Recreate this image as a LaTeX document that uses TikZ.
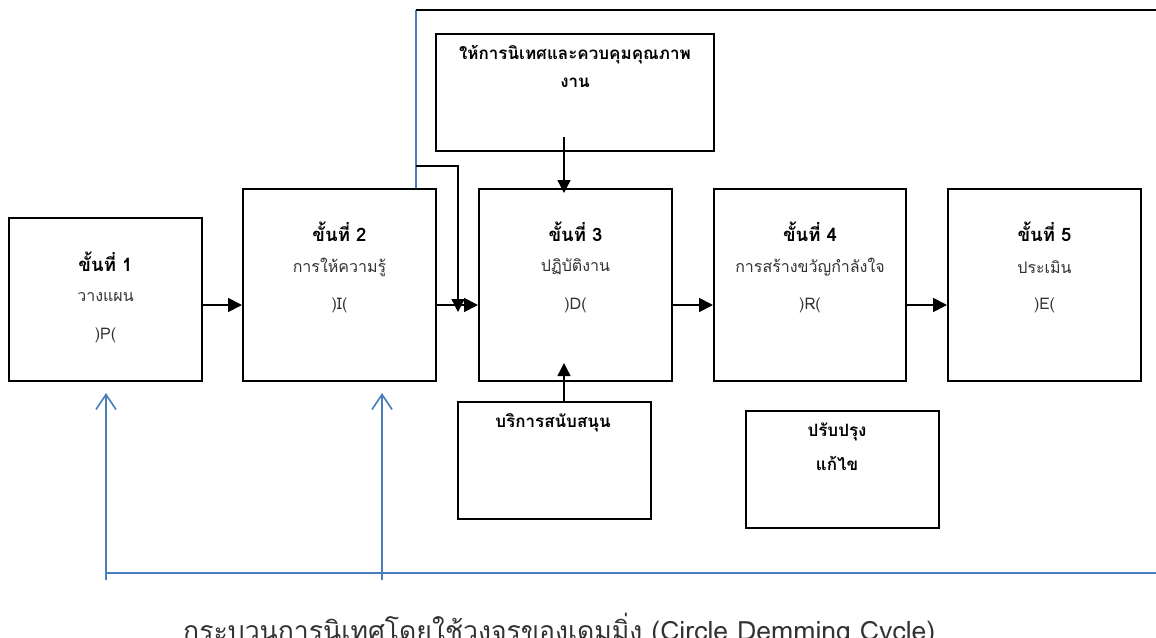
\documentclass[tikz,border=0pt]{standalone}
\usepackage{fontspec}
\newfontfamily\thaifont[Script=Thai]{Loma}
\usetikzlibrary{arrows.meta}
\definecolor{lineblue}{RGB}{74,126,187}
\definecolor{txtgray}{RGB}{50,50,50}
\tikzset{
  stepbox/.style={draw=black, line width=2pt, inner sep=0pt},
  sidebox/.style={draw=black, line width=1.6pt, inner sep=0pt},
  title/.style={font=\thaifont\fontsize{18.5}{22}\selectfont\bfseries, inner sep=0pt},
  sub/.style={font=\thaifont\fontsize{16}{19}\selectfont, text=txtgray, inner sep=0pt},
  side/.style={font=\thaifont\fontsize{17}{20}\selectfont\bfseries, inner sep=0pt, align=center},
  arr/.style={line width=1.8pt, -{Triangle[length=14pt,width=14pt]}},
  thinarr/.style={line width=1.4pt, -{Triangle[length=13pt,width=13pt]}},
  bluearr/.style={draw=lineblue, line width=1.6pt, -{Straight Barb[length=15pt,width=20pt,line width=1.6pt]}},
  blueline/.style={draw=lineblue, line width=2pt},
}
\begin{document}
\begin{tikzpicture}[x=1pt,y=-1pt]
\useasboundingbox (0,0) rectangle (1156,637);
% step boxes
\node[stepbox, minimum width=193pt, minimum height=163pt] (b1) at (105.5,299.5) {};
\node[stepbox, minimum width=193pt, minimum height=192pt] (b2) at (339.5,285) {};
\node[stepbox, minimum width=193pt, minimum height=192pt] (b3) at (575.5,285) {};
\node[stepbox, minimum width=192pt, minimum height=192pt] (b4) at (810,285) {};
\node[stepbox, minimum width=193pt, minimum height=192pt] (b5) at (1044.5,285) {};
% side boxes
\node[sidebox, minimum width=278pt, minimum height=117pt] (top) at (575,92.5) {};
\node[sidebox, minimum width=193pt, minimum height=117pt] (sup) at (554.5,460.5) {};
\node[sidebox, minimum width=193pt, minimum height=117pt] (imp) at (842.5,469.5) {};
% texts
\node[title] (t1) at (105.5,262) {ขั้นที่ 1};
\node[sub] (s1) at (105.5,297) {วางแผน};
\node[sub] (l1) at (105.5,335) {)P(};
\node[title] (t2) at (339.5,232) {ขั้นที่ 2};
\node[sub] (s2) at (339.5,267) {การให้ความรู้};
\node[sub] (l2) at (339.5,305) {)I(};
\node[title] (t3) at (575.5,232) {ขั้นที่ 3};
\node[sub] (s3) at (575.5,267) {ปฏิบัติงาน};
\node[sub] (l3) at (575.5,305) {)D(};
\node[title] (t4) at (810,232) {ขั้นที่ 4};
\node[sub] (s4) at (810,267) {การสร้างขวัญกำลังใจ};
\node[sub] (l4) at (810,305) {)R(};
\node[title] (t5) at (1044.5,232) {ขั้นที่ 5};
\node[sub] (s5) at (1044.5,267) {ประเมิน};
\node[sub] (l5) at (1044.5,305) {)E(};
\node[side] (tt1) at (575,55) {ให้การนิเทศและควบคุมคุณภาพ};
\node[side] (tt2) at (575,83) {งาน};
\node[side] (st) at (553,423) {บริการสนับสนุน};
\node[side] (it1) at (837,432) {ปรับปรุง};
\node[side] (it2) at (837,463) {แก้ไข};
% caption
\node[font=\thaifont\fontsize{26.6}{31}\selectfont, text=txtgray, anchor=base west, inner sep=0pt] (cap) at (183,640) {กระบวนการนิเทศโดยใช้วงจรของเดมมิ่ง (Circle Demming Cycle)};
% coordinates
\coordinate (ya) at (0,305);
\coordinate (tl) at (416,10);
\coordinate (tr) at (1156,10);
\coordinate (kn) at (416,166);
\coordinate (kd) at (458,166);
\coordinate (kt) at (458,312);
\coordinate (ta) at (564,137);
\coordinate (tb) at (564,193);
\coordinate (sa) at (564,363);
\coordinate (bl) at (106,573);
\coordinate (br) at (1156,573);
\coordinate (v1a) at (106,580);
\coordinate (v1b) at (106,393);
\coordinate (v2a) at (382,580);
\coordinate (v2b) at (382,393);
% main flow
\draw[arr] (b1.east |- ya) -- (b2.west |- ya);
\draw[arr] (b2.east |- ya) -- (b3.west |- ya);
\draw[arr] (b3.east |- ya) -- (b4.west |- ya);
\draw[arr] (b4.east |- ya) -- (b5.west |- ya);
% feedback lines on top
\draw[blueline, line width=1.6pt] (b2.north -| tl) -- (tl);
\draw[line width=1.8pt] (tl) -- (tr);
\draw[thinarr] (kn) -- (kd) -- (kt);
% side inputs
\draw[thinarr] (ta) -- (tb);
\draw[thinarr] (sup.north -| sa) -- (sa);
% bottom loop
\draw[blueline] (bl) -- (br);
\draw[bluearr] (v1a) -- (v1b);
\draw[bluearr] (v2a) -- (v2b);
\end{tikzpicture}
\end{document}
